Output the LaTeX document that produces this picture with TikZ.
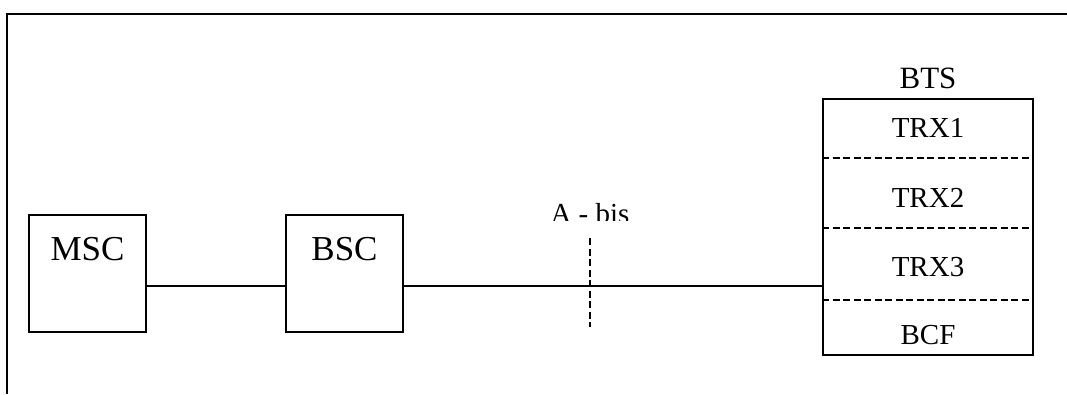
\documentclass[tikz,border=0pt]{standalone}
\usepackage{fontspec}
\setmainfont{Liberation Serif}
\usetikzlibrary{positioning}

\begin{document}
\begin{tikzpicture}[x=1pt,y=-1pt,line width=2pt,
  big/.style={font=\fontsize{35}{42}\selectfont},
  small/.style={font=\fontsize{29}{35}\selectfont},
  unit/.style={draw,minimum width=117pt,minimum height=117pt,inner sep=0pt},
  cut/.style={dash pattern=on 7pt off 3.5pt}]
\useasboundingbox (0,0) rectangle (1067,394);
% frame
\draw[line width=2.5pt] (1067,14) -- (7,14) -- (7,394);

% switching part
\node[unit,label={[big,anchor=base,yshift=-46pt]north:MSC}] (msc) at (87.5,273.5) {};
\node[unit,label={[big,anchor=base,yshift=-46pt]north:BSC}] (bsc) at (344.5,273.5) {};

% base station
\node[draw,minimum width=210pt,minimum height=256pt,inner sep=0pt,
      label={[font=\fontsize{31}{37}\selectfont,anchor=base,yshift=10pt]north:BTS}] (bts) at (928,227) {};
\foreach \d in {60,130,202}
  \draw[cut] ([yshift=-\d pt]bts.north west) -- ([yshift=-\d pt]bts.north east);
\node[small,anchor=base] (trx1) at (928,137) {TRX1};
\node[small,anchor=base] (trx2) at (928,207) {TRX2};
\node[small,anchor=base] (trx3) at (928,276) {TRX3};
\node[small,anchor=base] (bcf) at (928,344) {BCF};

% links
\draw ([yshift=-12pt]msc.east) -- ([yshift=-12pt]bsc.west);
\coordinate (abisin) at ([yshift=-12pt]bsc.east);
\draw (abisin) -- (abisin -| bts.west);

% A-bis interface, cut off at the bottom
\begin{scope}
\clip (500,190) rectangle (680,220.5);
\node[small,anchor=base] (abis) at (590,223) {A - bis};
\end{scope}
\coordinate (cuttop) at (590,238);
\coordinate (cutbot) at (590,327);
\draw[cut] (cuttop) -- (cutbot);
\end{tikzpicture}
\end{document}
